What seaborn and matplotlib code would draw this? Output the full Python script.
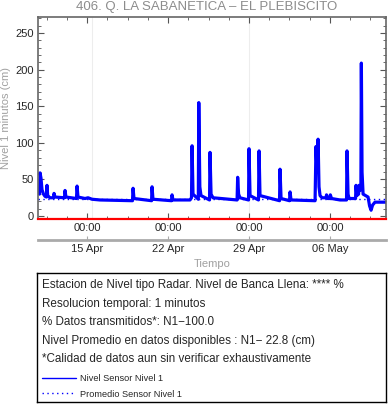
import pandas as pd
import seaborn as sns
import matplotlib.pyplot as plt
import matplotlib.dates as mdates
from matplotlib.ticker import MultipleLocator, FixedLocator, NullLocator
from matplotlib.lines import Line2D

title = "406. Q. LA SABANETICA \u2013 EL PLEBISCITO"
ref_date = pd.Timestamp("2024-04-15")
x_start = pd.Timestamp("2024-04-10 18:20")
x_end = pd.Timestamp("2024-05-10 20:10")

# days after 15 Apr 00:00 and level (cm)
day_offset = [-4.11, -4.06, -3.98, -3.89, -3.76, -3.63, -3.50, -3.46, -3.40, -3.20,
              -2.90, -2.85, -2.77, -1.95, -1.90, -1.82, -0.91, -0.86, -0.78, -0.17,
              0.09, 0.43, 1.12, 3.93, 3.98, 4.06, 5.58, 5.62, 5.70, 7.30,
              7.35, 7.43, 8.90, 9.03, 9.08, 9.16, 9.62, 9.66, 9.75, 9.85,
              10.59, 10.63, 10.72, 10.89, 12.97, 13.02, 13.10, 13.22, 13.96, 14.00,
              14.09, 14.82, 14.87, 14.95, 16.64, 16.68, 16.77, 17.50, 17.55, 17.63,
              19.71, 19.79, 19.88, 19.97, 20.05, 20.14, 20.31, 20.66, 20.70, 20.79,
              20.99, 21.03, 21.13, 21.87, 22.43, 22.47, 22.56, 22.65, 23.21, 23.25,
              23.32, 23.47, 23.51, 23.60, 23.67, 23.71, 23.77, 23.86, 24.29, 24.42,
              24.55, 24.68, 24.89, 25.84]
nivel_cm = [30, 59, 52, 36, 30, 27, 26, 42, 28, 25,
            25, 31, 26, 25, 35, 26, 24, 41, 26, 24,
            25, 23, 22, 21, 38, 24, 21, 40, 23, 21,
            29, 22, 22, 25, 96, 30, 23, 155, 40, 28,
            22, 87, 30, 25, 22, 53, 30, 25, 22, 92,
            28, 22, 89, 28, 21, 64, 24, 21, 33, 22,
            21, 95, 60, 105, 40, 28, 25, 25, 29, 24,
            24, 29, 24, 22, 22, 89, 30, 24, 24, 42,
            28, 30, 42, 35, 40, 209, 60, 30, 26, 14,
            8, 15, 19, 19]
mean_level = 22.8
grid_days = [0.43, 14.0]

info_lines = [
    "Estacion de Nivel tipo Radar. Nivel de Banca Llena: **** %",
    "Resolucion temporal: 1 minutos",
    "% Datos transmitidos*: N1\u2212100.0",
    "Nivel Promedio en datos disponibles : N1\u2212 22.8 (cm)",
    "*Calidad de datos aun sin verificar exhaustivamente",
]
legend_labels = ["Nivel Sensor Nivel 1", "Promedio Sensor Nivel 1"]

sns.set_style("ticks")
plt.rcParams["font.family"] = ["Liberation Sans", "DejaVu Sans"]

df = pd.DataFrame({
    "tiempo": ref_date + pd.to_timedelta(day_offset, unit="D"),
    "nivel": nivel_cm,
})

fig = plt.figure(figsize=(3.88, 4.04), dpi=100)
ax = fig.add_axes([38 / 388, 185 / 404, 348 / 388, 202 / 404])

for g in grid_days:
    ax.axvline(ref_date + pd.Timedelta(days=g), color="#ededed", lw=0.8, zorder=0)
dots = (0, (1, 2.5))
ax.axhline(mean_level, color="blue", lw=1, ls=dots)
sns.lineplot(data=df, x="tiempo", y="nivel", color="blue", lw=2.3,
             estimator=None, ax=ax)

ax.set_xlim(x_start, x_end)
ax.set_ylim(-4, 272)
ax.yaxis.set_major_locator(MultipleLocator(50))
ax.yaxis.set_minor_locator(MultipleLocator(10))
ax.xaxis.set_major_locator(mdates.WeekdayLocator(byweekday=mdates.MO))
ax.xaxis.set_major_formatter(mdates.DateFormatter("%H:%M"))
minor_ticks = pd.date_range(ref_date - pd.Timedelta(hours=42 * 4), periods=24, freq="42h")
ax.xaxis.set_minor_locator(FixedLocator(mdates.date2num(minor_ticks)))
ax.tick_params(which="both", direction="in", top=True, right=True,
               labelsize=8, color="#555555", pad=3)
ax.tick_params(which="major", length=4)
ax.tick_params(which="minor", length=2.5)
ax.set_xlabel("")
ax.set_ylabel("")
for side in ["left", "top", "right"]:
    ax.spines[side].set_color("#666666")
    ax.spines[side].set_linewidth(1.2)
ax.spines["bottom"].set_color("red")
ax.spines["bottom"].set_linewidth(1.6)

sec = ax.secondary_xaxis(-0.104)
sec.xaxis.set_major_locator(mdates.WeekdayLocator(byweekday=mdates.MO))
sec.xaxis.set_major_formatter(mdates.DateFormatter("%d %b"))
sec.xaxis.set_minor_locator(NullLocator())
sec.spines["bottom"].set_color("#aaaaaa")
sec.spines["bottom"].set_linewidth(2)
sec.tick_params(direction="in", length=3, color="#aaaaaa", labelsize=8, pad=3)

fig.text(207 / 388, 1 - 7 / 404, title, ha="center", va="center",
         fontsize=9.5, color="#8c8c8c")
fig.text(6 / 388, 1 - 118 / 404, "Nivel 1 minutos (cm)", rotation=90,
         ha="center", va="center", fontsize=8, color="#a0a0a0")
fig.text(212 / 388, 1 - 264 / 404, "Tiempo", ha="center", va="center",
         fontsize=8, color="#a0a0a0")

box = fig.add_axes([37 / 388, 2 / 404, 349 / 388, 129 / 404])
box.set_xticks([])
box.set_yticks([])
for side in box.spines:
    box.spines[side].set_color("black")
    box.spines[side].set_linewidth(1)
for i, line in enumerate(info_lines):
    box.text(5 / 349, (402 - (285 + 18.6 * i)) / 129, line, va="center", fontsize=8.4)
handles = [Line2D([], [], color="blue", lw=1),
           Line2D([], [], color="blue", lw=1, ls=dots)]
box.legend(handles, legend_labels, loc="upper left",
           bbox_to_anchor=(5 / 349, (402 - 374) / 129), frameon=False,
           fontsize=6.6, handlelength=3.7, handletextpad=0.45,
           labelspacing=0.72, borderaxespad=0, borderpad=0)

fig.savefig("out.png", dpi=100)
